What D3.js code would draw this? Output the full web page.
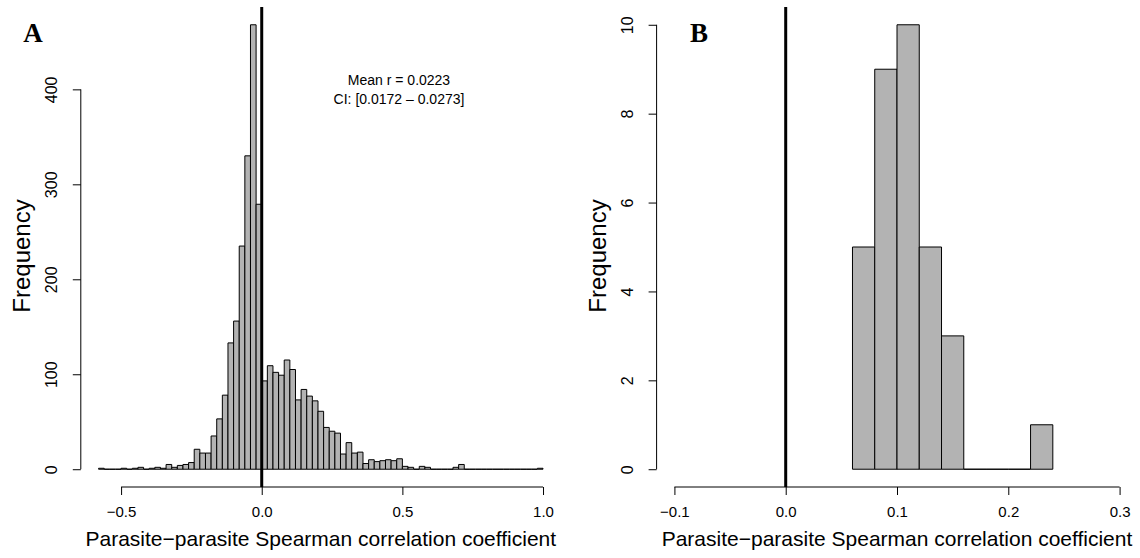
<!doctype html>
<html>
  <head>
    <meta charset="utf-8">
    <title>Parasite-parasite correlation histograms</title>
    <style>
      body { margin: 0; background: #fff; }
      text { font-family: 'Liberation Sans', Arial, sans-serif; fill: #000; }
      .panel { font-family: 'Liberation Serif', 'Times New Roman', serif; font-weight: bold; }
      .domain, .tick line { stroke: #000; stroke-width: 1; }
    </style>
  </head>
  <body>
    <svg width='1140' height='558'></svg>

  <script src='https://d3js.org/d3.v7.min.js'></script>
  <script>
// Panel A: histogram of all pairwise correlations (bin width 0.02)
var edgesA = [-0.58, -0.56, -0.54, -0.52, -0.50, -0.48, -0.46, -0.44, -0.42, -0.40,
  -0.38, -0.36, -0.34, -0.32, -0.30, -0.28, -0.26, -0.24, -0.22, -0.20,
  -0.18, -0.16, -0.14, -0.12, -0.10, -0.08, -0.06, -0.04, -0.02, 0.00,
  0.02, 0.04, 0.06, 0.08, 0.10, 0.12, 0.14, 0.16, 0.18, 0.20,
  0.22, 0.24, 0.26, 0.28, 0.30, 0.32, 0.34, 0.36, 0.38, 0.40,
  0.42, 0.44, 0.46, 0.48, 0.50, 0.52, 0.54, 0.56, 0.58, 0.60,
  0.62, 0.64, 0.66, 0.68, 0.70, 0.72, 0.74, 0.76, 0.78, 0.80,
  0.82, 0.84, 0.86, 0.88, 0.90, 0.92, 0.94, 0.96, 0.98, 1.00];
var countsA = [1, 0, 0, 0, 1, 0, 1, 2, 0, 1,
  2, 1, 5, 2, 4, 5, 7, 21, 17, 17,
  35, 53, 78, 133, 156, 235, 330, 468, 279, 93,
  109, 102, 99, 115, 105, 73, 84, 77, 72, 61,
  44, 40, 38, 16, 28, 17, 18, 6, 10, 8,
  9, 10, 9, 11, 3, 2, 0, 3, 2, 0,
  0, 0, 0, 2, 5, 0, 0, 0, 0, 0,
  0, 0, 0, 0, 0, 0, 0, 0, 1];
var xTicksA = [-0.5, 0.0, 0.5, 1.0];
var yTicksA = [0, 100, 200, 300, 400];
var noteA = ['Mean r = 0.0223', 'CI: [0.0172 \u2013 0.0273]'];

// Panel B: histogram of significant correlations
var edgesB = [0.06, 0.08, 0.10, 0.12, 0.14, 0.16, 0.18, 0.20, 0.22, 0.24];
var countsB = [5, 9, 10, 5, 3, 0, 0, 0, 1];
var xTicksB = [-0.1, 0.0, 0.1, 0.2, 0.3];
var yTicksB = [0, 2, 4, 6, 8, 10];

var xTitle = 'Parasite\u2212parasite Spearman correlation coefficient';
var yTitle = 'Frequency';

var svg = d3.select('svg'),
  plotTop = 7, plotBottom = 487;

function panel(opt) {
  // R style: data range padded by 4% on each side
  var xr = [opt.edges[0], opt.edges[opt.edges.length - 1]];
  if (opt.xlim) xr = opt.xlim;
  var xpad = (xr[1] - xr[0]) * 0.04,
    ymax = d3.max(opt.counts), ypad = ymax * 0.04;
  var x = d3.scaleLinear().domain([xr[0] - xpad, xr[1] + xpad]).range([opt.left, opt.right]);
  var y = d3.scaleLinear().domain([-ypad, ymax + ypad]).range([plotBottom, plotTop]);
  var g = svg.append('g');

  // bars as paths so that empty bins still show their edge on the baseline
  g.selectAll('path.bar')
    .data(opt.counts)
    .enter().append('path')
    .attr('class', 'bar')
    .attr('d', function(d, i) {
      var x0 = x(opt.edges[i]), x1 = x(opt.edges[i + 1]);
      return 'M' + x0 + ',' + y(0) + 'V' + y(d) + 'H' + x1 + 'V' + y(0) + 'Z';
    })
    .attr('fill', '#b3b3b3')
    .attr('stroke', '#000')
    .attr('stroke-width', 1);

  // x axis
  var xa = g.append('g')
    .attr('transform', 'translate(0,' + plotBottom + ')')
    .call(d3.axisBottom(x).tickValues(opt.xticks).tickSize(8).tickSizeOuter(0).tickFormat(d3.format('.1f')));
  xa.select('.domain').attr('d', 'M' + x(opt.xticks[0]) + ',0H' + x(opt.xticks[opt.xticks.length - 1]));
  xa.selectAll('text').attr('y', 19).style('font-size', '15px');

  // y axis, labels rotated like R's las = 0
  var ya = g.append('g')
    .attr('transform', 'translate(' + opt.left + ',0)')
    .call(d3.axisLeft(y).tickValues(opt.yticks).tickSize(8).tickSizeOuter(0).tickFormat(d3.format('d')));
  ya.select('.domain').attr('d', 'M0,' + y(opt.yticks[0]) + 'V' + y(opt.yticks[opt.yticks.length - 1]));
  ya.selectAll('text')
    .attr('x', null).attr('dy', null)
    .attr('text-anchor', 'middle')
    .attr('transform', 'translate(-29,0) rotate(-90)')
    .attr('dy', '0.35em')
    .style('font-size', '16px');

  // zero line
  g.append('line')
    .attr('x1', x(0)).attr('x2', x(0))
    .attr('y1', plotTop).attr('y2', plotBottom)
    .attr('stroke', '#000').attr('stroke-width', 3);

  g.append('text')
    .attr('x', (opt.left + opt.right) / 2).attr('y', 546)
    .attr('text-anchor', 'middle')
    .style('font-size', '21px')
    .text(xTitle);
  g.append('text')
    .attr('transform', 'translate(' + (opt.left - 51) + ',' + 256 + ') rotate(-90)')
    .attr('text-anchor', 'middle')
    .style('font-size', '24px')
    .text(yTitle);
  g.append('text')
    .attr('class', 'panel')
    .attr('x', opt.labelX).attr('y', 42)
    .attr('text-anchor', 'middle')
    .style('font-size', '27px')
    .text(opt.label);
  return x;
}

var xA = panel({ edges: edgesA, counts: countsA, xticks: xTicksA, yticks: yTicksA,
  left: 80.8, right: 560.8, label: 'A', labelX: 33 });
var xB = panel({ edges: edgesB, counts: countsB, xticks: xTicksB, yticks: yTicksB,
  xlim: [-0.1, 0.3], left: 656.6, right: 1137.4, label: 'B', labelX: 699 });

svg.append('text')
  .attr('x', 399).attr('text-anchor', 'middle')
  .style('font-size', '14px')
  .selectAll('tspan')
  .data(noteA)
  .enter().append('tspan')
  .attr('x', 399)
  .attr('y', function(d, i) { return 85 + i * 19; })
  .text(function(d) { return d; });
  </script>
  </body>
</html>
